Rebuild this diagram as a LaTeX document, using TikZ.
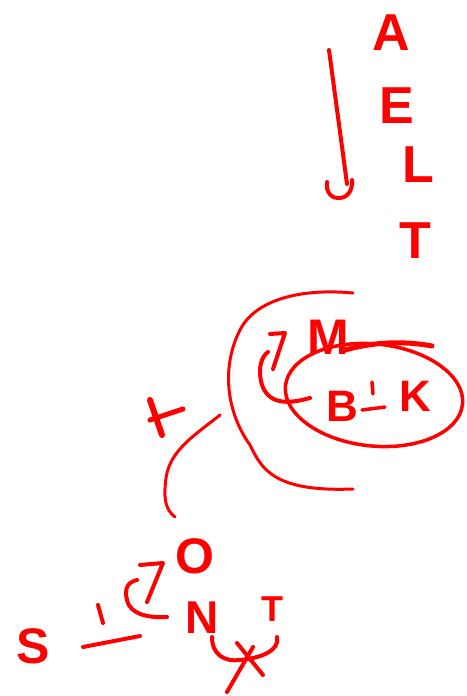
\documentclass[tikz,border=0pt]{standalone}
\usepackage{fontspec}
\setmainfont{Liberation Sans}
\usetikzlibrary{shapes.geometric}
\definecolor{ink}{RGB}{255,0,0}
\tikzset{
  stroke/.style={draw=ink,line width=4pt,line cap=round,line join=round},
  thin/.style={draw=ink,line width=3pt,line cap=round,line join=round},
  letter/.style={text=ink,inner sep=0pt,font=\bfseries\fontsize{#1}{#1}\selectfont},
  letter/.default=52
}
\begin{document}
\begin{tikzpicture}[x=1pt,y=-1pt]
\useasboundingbox (0,0) rectangle (466,696);
% right column letters
\node[letter] (A) at (391,33) {A};
\node[letter] (E) at (397,106) {E};
\node[letter] (L) at (418,165) {L};
\node[letter] (T1) at (415,241) {T};
% downward arrow with hook head
\coordinate (arS) at (329,50);
\coordinate (arE) at (347,184);
\draw[stroke] (arS) -- (arE);
\draw[stroke] (352,180) .. controls (354,204) and (324,204) .. (327,182);
% big left bracket arc
\coordinate (brT) at (353,293);
\coordinate (brB) at (353,489);
\draw[thin] (brT) .. controls (300,288) and (255,300) .. (240,330)
  .. controls (222,365) and (225,410) .. (250,445)
  .. controls (262,470) and (275,492) .. (brB);
% M
\node[letter=50] (M) at (328,337) {M};
% curl arrow to M
\draw[stroke] (310,398) .. controls (295,402) and (270,408) .. (262,385)
  .. controls (257,368) and (262,356) .. (268,352);
\draw[stroke] (270,334) -- (285,333) -- (273,369);
% ellipse around B K
\node[draw=ink,line width=3.5pt,ellipse,minimum width=178pt,minimum height=102pt,rotate=-6] (ell) at (374,395) {};
\draw[draw=ink,line width=5pt,line cap=round] (345,350) .. controls (370,343) and (400,340) .. (432,346);
\node[letter=44] (B) at (342,406) {B};
\node[letter=44] (K) at (415,396) {K};
\draw[stroke,line width=3.5pt] (372,382) -- (373,394);
\draw[stroke,line width=3.5pt] (362,410) -- (385,407);
% cross mark
\draw[stroke,line width=6pt] (150,400) -- (162,435);
\draw[stroke,line width=5pt] (150,420) -- (183,409);
% connector from bracket to O
\coordinate (cS) at (220,415);
\coordinate (cE) at (175,517);
\draw[thin] (cS) .. controls (195,435) and (170,450) .. (166,478)
  .. controls (163,500) and (166,510) .. (cE);
% O and N
\node[letter=50] (O) at (195,556) {O};
\node[letter=46] (N) at (202,618) {N};
% curl arrow near N
\draw[stroke] (167,617) .. controls (150,618) and (130,615) .. (127,600)
  .. controls (124,588) and (128,582) .. (137,580);
\draw[stroke] (140,565) -- (163,563) -- (147,602);
\draw[stroke] (98,605) -- (103,623);
\draw[stroke] (83,647) -- (140,636);
% S
\node[letter=50] (S) at (33,646) {S};
% T small
\node[letter=36] (T2) at (272,609) {T};
% cup and X under N
\draw[stroke] (212,637) .. controls (212,655) and (225,662) .. (240,660)
  .. controls (262,658) and (280,650) .. (277,637);
\draw[stroke] (237,643) -- (263,675);
\draw[stroke] (253,647) -- (227,692);
\end{tikzpicture}
\end{document}
